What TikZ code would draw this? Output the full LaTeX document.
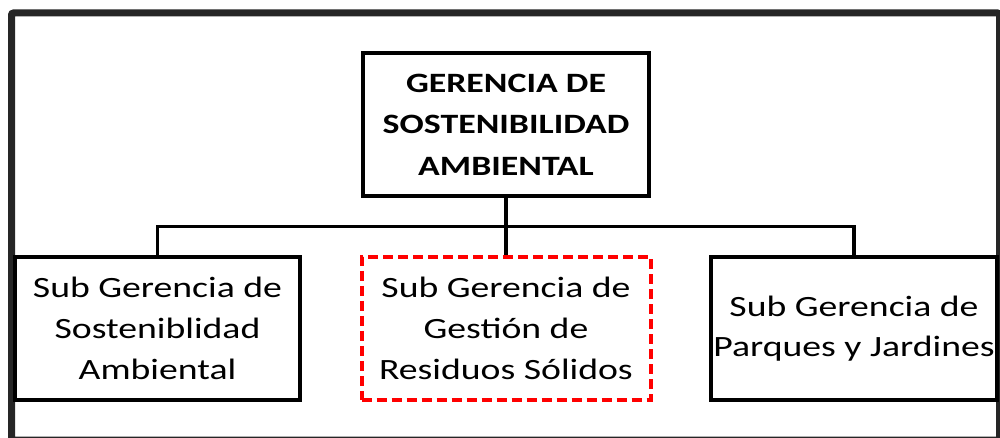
\documentclass[tikz,border=0pt]{standalone}
\usepackage{fontspec}
\newfontfamily\calib[FakeStretch=1.28]{Carlito}
\begin{document}
\begin{tikzpicture}[x=0.75pt, y=-0.75pt,
  unit/.style={draw, line width=3pt, align=center, inner sep=0pt,
    minimum height=107.25pt, font=\calib\fontsize{22.1}{30.5}\selectfont},
  head/.style={unit, font=\calib\bfseries\fontsize{21}{31}\selectfont},
  focus/.style={unit, draw=red, dash pattern=on 7.5pt off 3.75pt}]
  \useasboundingbox (0,0) rectangle (1000,438);
  % outer frame, cut by the page on the right and bottom
  \draw[line width=5.25pt, black!85, rounded corners=1.5pt] (11.5,13) rectangle (999.5,440);

  \node[head, minimum width=214.5pt] (gsa) at (506,124.5) {GERENCIA DE\\SOSTENIBILIDAD\\AMBIENTAL};
  \node[unit, minimum width=213.75pt] (sgsa) at (157.5,328.5) {Sub Gerencia de\\Sosteniblidad\\Ambiental};
  \node[focus, minimum width=216.75pt] (sggrs) at (506,328.5) {Sub Gerencia de\\Gesti\'on de\\Residuos S\'olidos};
  \node[unit, minimum width=214.5pt] (sgpj) at (854,328.5) {Sub Gerencia de\\Parques y Jardines};

  \coordinate (bus) at (506,226.5); % branch line
  \draw[line width=2.8pt] (gsa.south) -- (sggrs.north);
  \draw[line width=2.8pt] (sgsa.north) |- (bus) -| (sgpj.north);
\end{tikzpicture}
\end{document}
